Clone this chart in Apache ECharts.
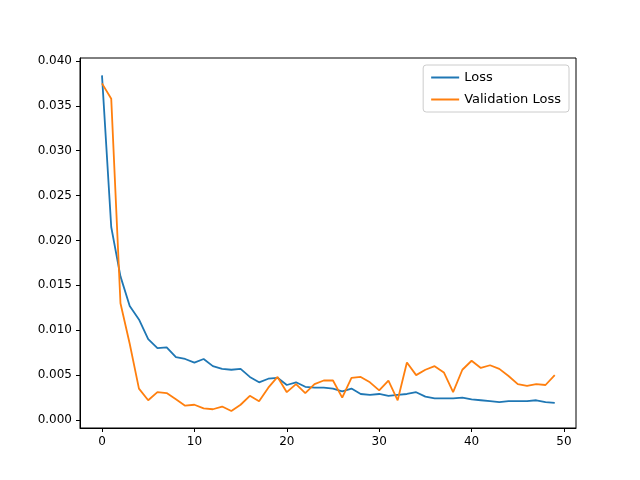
<!doctype html>
<html>
<head>
<meta charset="utf-8">
<script src="https://cdn.jsdelivr.net/npm/echarts@6/dist/echarts.min.js"></script>
</head>
<body style="margin:0">
<div id="main" style="width:640px;height:480px"></div>
<script>
var loss = [0.0384,0.0215,0.0160,0.0127,0.0112,0.0090,0.0080,0.0081,0.0070,0.0068,
  0.0064,0.0068,0.0060,0.0057,0.0056,0.0057,0.0048,0.0042,0.0046,0.0047,
  0.0039,0.0042,0.0037,0.0036,0.0036,0.0035,0.0032,0.0035,0.0029,0.0028,
  0.0029,0.0027,0.0028,0.0029,0.0031,0.0026,0.0024,0.0024,0.0024,0.0025,
  0.0023,0.0022,0.0021,0.0020,0.0021,0.0021,0.0021,0.0022,0.0020,0.0019]
var valLoss = [0.0375,0.0358,0.0130,0.0085,0.0035,0.0022,0.0031,0.0030,0.0023,0.0016,
  0.0017,0.0013,0.0012,0.0015,0.0010,0.0017,0.0027,0.0021,0.0036,0.0048,
  0.0031,0.0040,0.0030,0.0040,0.0044,0.0044,0.0025,0.0047,0.0048,0.0042,
  0.0033,0.0044,0.0022,0.0064,0.0050,0.0056,0.0060,0.0053,0.0031,0.0056,
  0.0066,0.0058,0.0061,0.0057,0.0049,0.0040,0.0038,0.0040,0.0039,0.0050]
var xTicks = [0, 10, 20, 30, 40, 50]
var yTicks = [0, 0.005, 0.010, 0.015, 0.020, 0.025, 0.030, 0.035, 0.040]

function pairs(arr) { return arr.map(function (v, i) { return [i, v] }) }

var myChart = echarts.init(document.getElementById('main'))
var font = 'DejaVu Sans'
myChart.setOption({
  animation: false,
  grid: { left: 80, right: 64, top: 58, bottom: 52, show: true, borderColor: '#000', borderWidth: 1 },
  legend: {
    orient: 'vertical', right: 71, top: 65,
    itemWidth: 28, itemHeight: 2, itemGap: 9,
    padding: [6, 8, 6, 8],
    borderColor: '#cccccc', borderWidth: 1, borderRadius: 3,
    backgroundColor: '#ffffff',
    icon: 'rect',
    textStyle: { fontFamily: font, fontSize: 13, color: '#000' },
    data: ['Loss', 'Validation Loss']
  },
  xAxis: {
    type: 'value', min: -2.38, max: 51.3,
    axisLine: { onZero: false, lineStyle: { color: '#000' } },
    splitLine: { show: false },
    axisTick: { customValues: xTicks, length: 4, lineStyle: { color: '#000' } },
    axisLabel: { customValues: xTicks, fontFamily: font, fontSize: 12, color: '#000' }
  },
  yAxis: {
    type: 'value', min: -0.00089, max: 0.04033,
    axisLine: { show: true, onZero: false, lineStyle: { color: '#000' } },
    splitLine: { show: false },
    axisTick: { show: true, customValues: yTicks, length: 4, lineStyle: { color: '#000' } },
    axisLabel: { customValues: yTicks, fontFamily: font, fontSize: 12, color: '#000',
      formatter: function (v) { return v.toFixed(3) } }
  },
  series: [
    { name: 'Loss', type: 'line', data: pairs(loss), showSymbol: false,
      color: '#1f77b4', lineStyle: { width: 1.8 } },
    { name: 'Validation Loss', type: 'line', data: pairs(valLoss), showSymbol: false,
      color: '#ff7f0e', lineStyle: { width: 1.8 } }
  ]
})
</script>
</body>
</html>
